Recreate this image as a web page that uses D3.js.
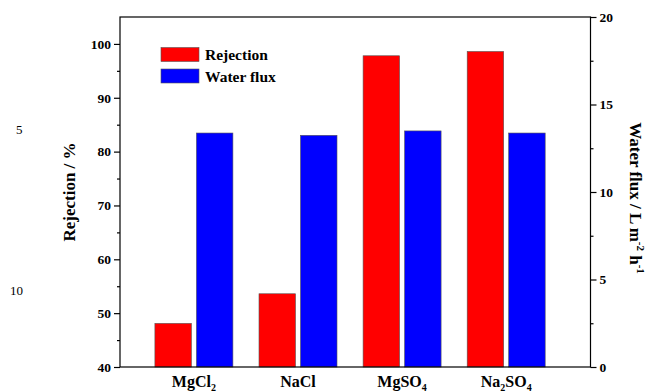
<!DOCTYPE html>
<html>
<head>
<meta charset="utf-8">
<script src="https://cdn.jsdelivr.net/npm/d3@7"></script>
<style>
  body { margin: 0; background: #fff; }
  svg { font-family: "Liberation Serif", "Times New Roman", serif; font-weight: bold; }
  text { fill: #000; }
</style>
</head>
<body>
<svg id="chart" width="647" height="392"></svg>
<script>
// salts on the x axis, split into [text, isSubscript] parts
const salts = [
  [["MgCl", false], ["2", true]],
  [["NaCl", false]],
  [["MgSO", false], ["4", true]],
  [["Na", false], ["2", true], ["SO", false], ["4", true]],
];
const rejection = [48.1, 53.6, 97.8, 98.6];   // %
const waterFlux = [13.37, 13.24, 13.49, 13.37]; // L m-2 h-1
const leftTicks = [40, 50, 60, 70, 80, 90, 100];
const rightTicks = [0, 5, 10, 15, 20];

const svg = d3.select("#chart");
const plotL = 120, plotR = 590.5, plotT = 17, plotB = 367;

const x = d3.scaleLinear().domain([0.29, 4.81]).range([plotL, plotR]);
const yL = d3.scaleLinear().domain([40, 105]).range([plotB, plotT]);
const yR = d3.scaleLinear().domain([0, 20]).range([plotB, plotT]);

const barW = 36.5, gap = 2.5;

// bars - rejection (red) left of centre, flux (blue) right
svg.append("g").selectAll("rect")
  .data(rejection)
  .join("rect")
  .attr("x", (d, i) => x(i + 1) - gap - barW)
  .attr("y", (d) => yL(d))
  .attr("width", barW)
  .attr("height", (d) => plotB - yL(d))
  .attr("fill", "#ff0000")
  .attr("stroke", "#555")
  .attr("stroke-width", 0.6);

svg.append("g").selectAll("rect")
  .data(waterFlux)
  .join("rect")
  .attr("x", (d, i) => x(i + 1) + gap)
  .attr("y", (d) => yR(d))
  .attr("width", barW)
  .attr("height", (d) => plotB - yR(d))
  .attr("fill", "#0000ff")
  .attr("stroke", "#555")
  .attr("stroke-width", 0.6);

// frame
svg.append("rect")
  .attr("x", plotL).attr("y", plotT)
  .attr("width", plotR - plotL).attr("height", plotB - plotT)
  .attr("fill", "none").attr("stroke", "#000").attr("stroke-width", 1.2);

// left axis
const gl = svg.append("g").attr("transform", `translate(${plotL},0)`)
  .call(d3.axisLeft(yL).tickValues(leftTicks).tickSize(6).tickPadding(3));
gl.append("g").call(d3.axisLeft(yL).tickValues(d3.range(45, 105, 10)).tickSize(3).tickFormat(""));

// right axis
const gr = svg.append("g").attr("transform", `translate(${plotR},0)`)
  .call(d3.axisRight(yR).tickValues(rightTicks).tickSize(6).tickPadding(3));
gr.append("g").call(d3.axisRight(yR).tickValues([2.5, 7.5, 12.5, 17.5]).tickSize(3).tickFormat(""));

svg.selectAll(".domain").remove();
svg.selectAll(".tick line").attr("stroke", "#000").attr("stroke-width", 1.2);
svg.selectAll(".tick text")
  .attr("font-family", "Liberation Serif, serif")
  .attr("font-weight", "bold")
  .attr("font-size", 13.5)
  .attr("fill", "#000");

// x labels with subscripts
salts.forEach((parts, i) => {
  const t = svg.append("text")
    .attr("x", x(i + 1))
    .attr("y", 387)
    .attr("text-anchor", "middle")
    .attr("font-size", 16);
  let wasSub = false;
  parts.forEach(([s, sub]) => {
    const ts = t.append("tspan").text(s);
    if (sub) ts.attr("font-size", 10).attr("dy", 4);
    else if (wasSub) ts.attr("dy", -4);
    wasSub = sub;
  });
});

// axis titles
svg.append("text")
  .attr("transform", "translate(75,192) rotate(-90)")
  .attr("text-anchor", "middle")
  .attr("font-size", 17)
  .text("Rejection / %");

const rt = svg.append("text")
  .attr("transform", "translate(630,198) rotate(90)")
  .attr("text-anchor", "middle")
  .attr("font-size", 17);
rt.append("tspan").text("Water flux / L m");
rt.append("tspan").text("-2").attr("font-size", 11).attr("dy", -7);
rt.append("tspan").text(" h").attr("dy", 7);
rt.append("tspan").text("-1").attr("font-size", 11).attr("dy", -7);

// legend
const legend = [["Rejection", "#ff0000"], ["Water flux", "#0000ff"]];
legend.forEach(([name, c], i) => {
  svg.append("rect")
    .attr("x", 161).attr("y", 47.5 + i * 21.5)
    .attr("width", 38).attr("height", 14)
    .attr("fill", c).attr("stroke", "#555").attr("stroke-width", 0.6);
  svg.append("text")
    .attr("x", 205).attr("y", 60 + i * 21.5)
    .attr("font-size", 15.5)
    .text(name);
});

// stray line numbers from the source document
svg.append("text").attr("x", 16).attr("y", 134).attr("font-weight", "normal").attr("font-size", 13).attr("fill", "#222").text("5");
svg.append("text").attr("x", 10).attr("y", 295).attr("font-weight", "normal").attr("font-size", 13).attr("fill", "#222").text("10");
</script>
</body>
</html>
